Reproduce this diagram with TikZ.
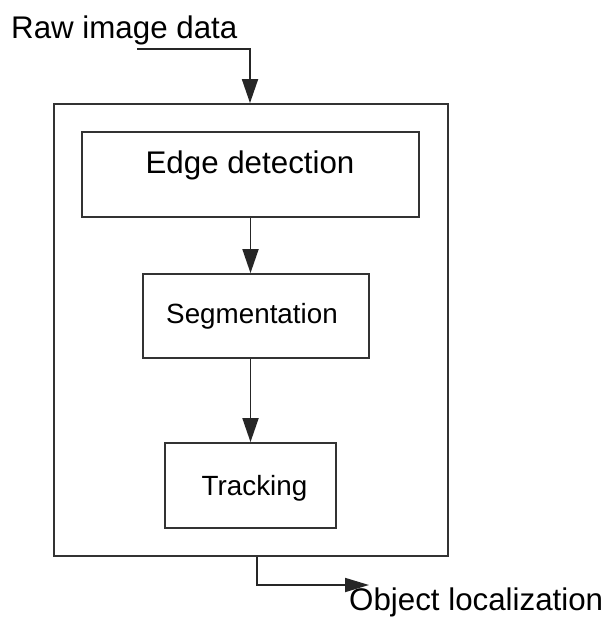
\documentclass[tikz,border=0pt]{standalone}
\usepackage{fontspec}
\setmainfont{Liberation Sans}
\usetikzlibrary{arrows.meta}

\tikzset{
  frame/.style={draw=black!80, line width=1.8pt, inner sep=0pt, fill=none},
  label/.style={inner sep=0pt, font=\fontsize{31.3}{37}\selectfont},
  small/.style={inner sep=0pt, font=\fontsize{27.8}{33}\selectfont},
  flow/.style={draw=black!85, line width=1.8pt, -{Triangle[length=24pt,width=16pt]}},
}

\begin{document}
\begin{tikzpicture}[x=1pt,y=-1pt]
  \useasboundingbox (0,0) rectangle (608,617);
  \fill[white] (0,0) rectangle (608,617);

  % enclosing processing block
  \node[frame, minimum width=394pt, minimum height=452pt] (outer) at (251,330) {};

  % processing stages
  \node[frame, minimum width=337pt, minimum height=85pt] (edge) at (250.5,174.5) {};
  \node[label, anchor=base] (edgetxt) at (250,174) {Edge detection};

  \node[frame, minimum width=226pt, minimum height=84pt] (seg) at (256,316) {};
  \node[small, anchor=base] (segtxt) at (252,323) {Segmentation};

  \node[frame, minimum width=171pt, minimum height=85pt] (track) at (250.5,485.5) {};
  \node[small, anchor=base] (tracktxt) at (254.5,495) {Tracking};

  % input and output labels
  \node[label, anchor=base west] (raw) at (11,39) {Raw image data};
  \node[label, anchor=base west] (obj) at (349,610) {Object localization};

  \coordinate (rawtail) at (137,49);
  \coordinate (outtip) at (369,585);

  % connectors
  \draw[flow] (rawtail) -| ([xshift=-1pt]outer.north);
  \draw[flow] (edge.south) -- (edge.south |- seg.north);
  \draw[flow] (track.north |- seg.south) -- (track.north);
  \draw[flow, -{Triangle[length=24pt,width=14pt]}] ([xshift=6pt]outer.south) |- (outtip);
\end{tikzpicture}
\end{document}
